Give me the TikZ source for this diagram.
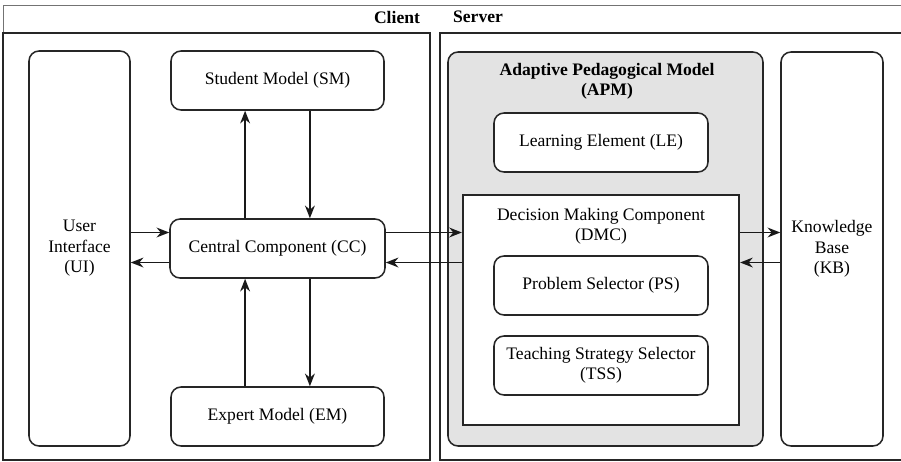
\documentclass[tikz,border=0pt]{standalone}
\usepackage{fontspec}
\setmainfont{Liberation Serif}
\usetikzlibrary{arrows.meta}
\begin{document}
\begin{tikzpicture}[x=0.025cm,y=-0.025cm,line width=1.1pt]
\tikzset{every node/.style={font=\fontsize{12.5}{14.5}\selectfont,align=center,inner sep=0pt},
  module/.style={draw=black!85,line width=1.1pt,rounded corners=2.5mm,fill=white},
  side/.style={draw=black!85,line width=1.8pt},
  title/.style={font=\fontsize{12.5}{14.5}\selectfont\bfseries},
  arr/.style={draw=black!90,-{Stealth[length=9pt,width=7pt]}},
  rarr/.style={draw=black!90,{Stealth[length=9pt,width=7pt]}-}}
\useasboundingbox (0,0) rectangle (901,461);
\draw[black!55,line width=0.6pt] (3,461) -- (3,5) -- (910,5);
% client and server
\node[side,minimum width=427*0.025cm,minimum height=427*0.025cm](client) at (216.5,246.5) {};
\node[side,minimum width=470*0.025cm,minimum height=427*0.025cm](server) at (675,246.5) {};
\node[title](lclient) at (397,17) {Client};
\node[title](lserver) at (478,17) {Server};
% client modules
\node[module,minimum width=101*0.025cm,minimum height=395*0.025cm](ui) at (79.5,248.5) {User\\Interface\\(UI)};
\node[module,minimum width=213*0.025cm,minimum height=59*0.025cm](sm) at (277.5,80.5) {Student Model (SM)};
\node[module,minimum width=215*0.025cm,minimum height=59*0.025cm](cc) at (277.5,248.5) {Central Component (CC)};
\node[module,minimum width=213*0.025cm,minimum height=59*0.025cm](em) at (277.5,416.5) {Expert Model (EM)};
% server modules
\node[module,fill=black!11,minimum width=315*0.025cm,minimum height=394*0.025cm](apm) at (605.5,249) {};
\node[title](lapm) at (607,81) {Adaptive Pedagogical Model\\(APM)};
\node[module,minimum width=214*0.025cm,minimum height=59*0.025cm](le) at (601,142.5) {Learning Element (LE)};
\node[draw=black!85,line width=1.6pt,fill=white,minimum width=276*0.025cm,minimum height=230*0.025cm](dmc) at (601,310) {};
\node(ldmc) at (601,226) {Decision Making Component\\(DMC)};
\node[module,minimum width=214*0.025cm,minimum height=59*0.025cm](ps) at (601,285.5) {Problem Selector (PS)};
\node[module,minimum width=214*0.025cm,minimum height=59*0.025cm](tss) at (601,365.5) {Teaching Strategy Selector\\(TSS)};
\node[module,minimum width=102*0.025cm,minimum height=394*0.025cm](kb) at (832,249) {Knowledge\\Base\\(KB)};
% connectors
\draw[arr] ([xshift=-0.81cm]cc.north) -- ([xshift=-0.81cm]sm.south);
\draw[arr] ([xshift=0.81cm]sm.south) -- ([xshift=0.81cm]cc.north);
\draw[arr] ([xshift=-0.81cm]em.north) -- ([xshift=-0.81cm]cc.south);
\draw[arr] ([xshift=0.81cm]cc.south) -- ([xshift=0.81cm]em.north);
\draw[arr] ([yshift=0.4cm]ui.east) -- ([yshift=0.4cm]cc.west);
\draw[rarr] ([yshift=-0.35cm]ui.east) -- ([yshift=-0.35cm]cc.west);
\draw[arr] ([yshift=0.4cm]cc.east) coordinate(up) -- (up -| dmc.west);
\draw[rarr] ([yshift=-0.35cm]cc.east) coordinate(dn) -- (dn -| dmc.west);
\draw[arr] (up -| dmc.east) -- (up -| kb.west);
\draw[rarr] (dn -| dmc.east) -- (dn -| kb.west);
\end{tikzpicture}
\end{document}
